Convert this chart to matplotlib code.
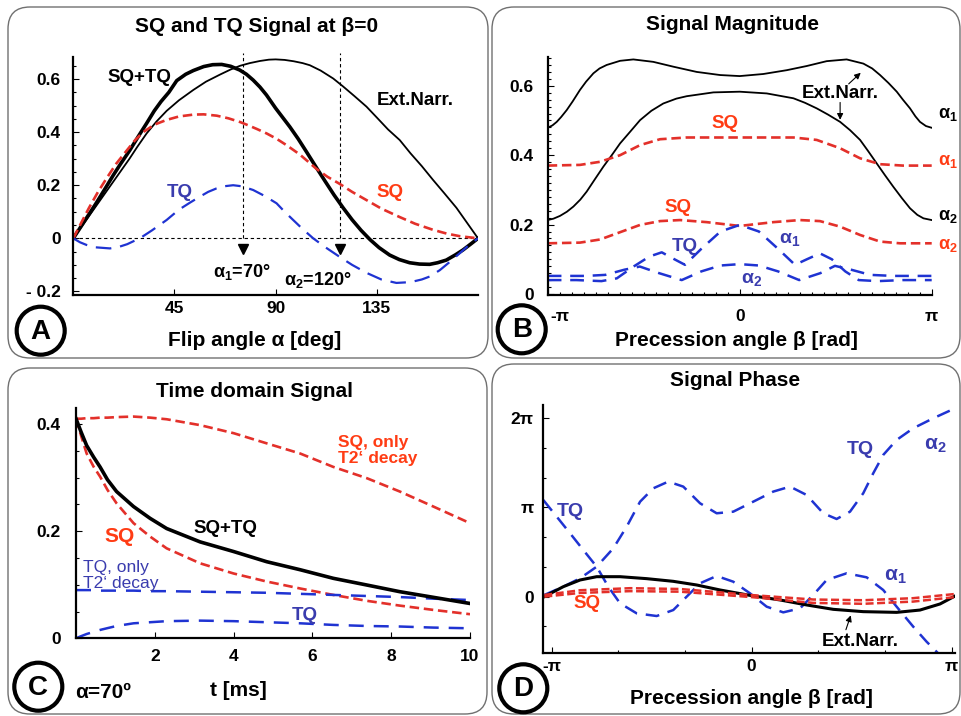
import matplotlib
matplotlib.use("Agg")
import matplotlib.pyplot as plt
import numpy as np
from matplotlib.patches import FancyBboxPatch, Circle
from matplotlib.transforms import IdentityTransform, ScaledTranslation
from matplotlib.ticker import MultipleLocator

# -----------------------------------------------------------------------------
# Datos
# -----------------------------------------------------------------------------

# A: señal frente al flip angle (grados)
a_deg_sqtq = [0, 5, 10, 14, 17.8, 21, 25, 29, 32.6, 36, 39, 42.5, 46, 50, 53.4, 58, 62, 66, 70, 74, 77,
              80, 83, 85.9, 90, 96.3, 100, 104, 108, 112, 116, 120, 124, 128, 132, 136, 140.7, 145,
              149.6, 154, 158.5, 162, 165.9, 170, 173.3, 177, 180]
a_sqtq = [0, 0.065, 0.13, 0.185, 0.238, 0.28, 0.33, 0.385, 0.433, 0.48, 0.515, 0.55, 0.594, 0.618,
          0.632, 0.647, 0.654, 0.655, 0.648, 0.634, 0.618, 0.596, 0.57, 0.54, 0.49, 0.42, 0.375, 0.322,
          0.268, 0.215, 0.163, 0.115, 0.07, 0.03, -0.005, -0.035, -0.063, -0.08, -0.092, -0.097, -0.098,
          -0.092, -0.082, -0.062, -0.044, -0.02, 0]

a_deg_en = [0, 5, 10, 15, 20, 25, 28.5, 32.6, 37, 41.5, 47, 53.4, 59, 65.3, 70, 74.2, 78.5, 83, 87, 90,
            94, 98, 102, 105.2, 110, 115.6, 120, 125, 130.4, 135, 140, 145.2, 150, 155, 160, 165, 170.4,
            175, 180]
a_en = [0, 0.06, 0.12, 0.18, 0.24, 0.30, 0.345, 0.395, 0.44, 0.48, 0.52, 0.559, 0.59, 0.617, 0.636,
        0.65, 0.66, 0.668, 0.673, 0.674, 0.672, 0.667, 0.66, 0.652, 0.632, 0.602, 0.572, 0.536, 0.496,
        0.455, 0.41, 0.37, 0.32, 0.272, 0.22, 0.17, 0.115, 0.06, 0]

a_deg_sq = [0, 3.5, 7, 11, 14.8, 19, 23.7, 27.5, 31.1, 36, 41.5, 47, 53.4, 58, 63.8, 69, 74.2, 78, 81.6,
            86, 90.4, 95, 100.7, 104, 108.1, 113, 118.5, 124, 130.4, 137, 145.2, 152, 160, 166, 171.9, 180]
a_sq = [0, 0.058, 0.115, 0.175, 0.226, 0.28, 0.33, 0.37, 0.40, 0.428, 0.446, 0.459, 0.466, 0.467, 0.462,
        0.452, 0.438, 0.425, 0.412, 0.395, 0.375, 0.35, 0.316, 0.292, 0.262, 0.232, 0.205, 0.175, 0.144,
        0.112, 0.08, 0.055, 0.032, 0.018, 0.008, 0]

a_deg_tq = [0, 3, 5.9, 10, 16.3, 20, 24, 27, 29.6, 35, 41.5, 47, 52, 56.3, 60, 63.7, 67, 71.1, 75, 80,
            85, 90.4, 94, 97.8, 102, 106.7, 112, 118.5, 124, 130.4, 137, 143.7, 150, 155, 158.5, 163,
            167, 171.9, 176, 180]
a_tq = [0, -0.015, -0.025, -0.034, -0.038, -0.033, -0.022, -0.01, 0, 0.03, 0.069, 0.108, 0.135, 0.157,
        0.175, 0.188, 0.196, 0.2, 0.196, 0.182, 0.16, 0.132, 0.1, 0.069, 0.035, 0, -0.033, -0.07, -0.1,
        -0.13, -0.155, -0.168, -0.165, -0.155, -0.144, -0.12, -0.092, -0.056, -0.025, 0]

a_alpha_marks = [75.6, 118.8]

# B: magnitud frente a beta (en unidades de pi)
b_beta_en1 = [-1, -0.975, -0.953, -0.93, -0.901, -0.87, -0.832, -0.8, -0.762, -0.73, -0.693, -0.623,
              -0.554, -0.45, -0.345, -0.224, -0.102, 0, 0.123, 0.245, 0.349, 0.453, 0.557, 0.644, 0.69,
              0.731, 0.775, 0.818, 0.85, 0.887, 0.915, 0.939, 0.97, 1]
b_en1 = [0.479, 0.486, 0.496, 0.51, 0.530, 0.555, 0.588, 0.612, 0.636, 0.650, 0.660, 0.672, 0.676,
         0.669, 0.655, 0.640, 0.631, 0.628, 0.634, 0.645, 0.657, 0.671, 0.676, 0.664, 0.65, 0.631,
         0.608, 0.583, 0.56, 0.535, 0.512, 0.496, 0.484, 0.479]

b_beta_en2 = [-1, -0.97, -0.936, -0.9, -0.866, -0.83, -0.797, -0.755, -0.71, -0.665, -0.623, -0.57,
              -0.519, -0.46, -0.398, -0.33, -0.276, -0.137, 0, 0.141, 0.28, 0.34, 0.401, 0.46, 0.523,
              0.575, 0.627, 0.67, 0.714, 0.757, 0.80, 0.845, 0.887, 0.925, 0.957, 1]
b_en2 = [0.213, 0.217, 0.225, 0.237, 0.252, 0.272, 0.295, 0.33, 0.367, 0.401, 0.434, 0.468, 0.501,
         0.528, 0.549, 0.563, 0.570, 0.581, 0.583, 0.578, 0.564, 0.551, 0.535, 0.517, 0.496, 0.472,
         0.444, 0.411, 0.376, 0.342, 0.309, 0.276, 0.247, 0.228, 0.218, 0.213]

b_beta_sq1 = [-1, -0.832, -0.727, -0.623, -0.519, -0.415, -0.276, 0, 0.28, 0.401, 0.523, 0.627, 0.731, 0.85, 1]
b_sq1 = [0.370, 0.372, 0.381, 0.400, 0.429, 0.446, 0.451, 0.451, 0.451, 0.444, 0.420, 0.391, 0.374, 0.370, 0.370]

b_beta_sq2 = [-1, -0.832, -0.727, -0.623, -0.519, -0.415, -0.311, -0.172, 0, 0.175, 0.314, 0.418, 0.523,
              0.627, 0.731, 0.835, 1]
b_sq2 = [0.146, 0.148, 0.157, 0.178, 0.199, 0.210, 0.213, 0.207, 0.196, 0.207, 0.213, 0.210, 0.194,
         0.170, 0.151, 0.146, 0.146]

b_beta_tq1 = [-1, -0.85, -0.72, -0.64, -0.55, -0.47, -0.406, -0.34, -0.285, -0.2, -0.1, 0, 0.1, 0.2,
              0.288, 0.35, 0.418, 0.48, 0.55, 0.62, 0.72, 0.85, 1]
b_tq1 = [0.040, 0.040, 0.037, 0.045, 0.08, 0.108, 0.12, 0.10, 0.084, 0.13, 0.18, 0.199, 0.18, 0.13,
         0.084, 0.10, 0.117, 0.10, 0.065, 0.04, 0.037, 0.040, 0.040]

b_beta_tq2 = [-1, -0.8, -0.7, -0.6, -0.52, -0.42, -0.302, -0.2, -0.1, 0, 0.1, 0.2, 0.31, 0.42, 0.496,
              0.58, 0.68, 0.8, 1]
b_tq2 = [0.052, 0.052, 0.055, 0.07, 0.079, 0.06, 0.040, 0.065, 0.082, 0.086, 0.082, 0.065, 0.040, 0.06,
         0.081, 0.07, 0.055, 0.052, 0.052]

# C: señal en el dominio del tiempo (ms)
c_t = [0, 0.13, 0.27, 0.45, 0.61, 0.8, 1.03, 1.46, 1.88, 2.3, 3.15, 4.0, 4.84, 5.69, 6.53, 7.38, 8.22,
       9.07, 10]
c_sqtq = [0.41, 0.385, 0.36, 0.338, 0.32, 0.296, 0.274, 0.246, 0.224, 0.205, 0.180, 0.162, 0.143, 0.128,
          0.112, 0.0995, 0.087, 0.0765, 0.065]
c_sq = [0.41, 0.378, 0.345, 0.32, 0.302, 0.277, 0.252, 0.215, 0.19, 0.168, 0.14, 0.121, 0.106, 0.093,
        0.081, 0.070, 0.061, 0.053, 0.045]
c_sq_t2 = [0.41, 0.41, 0.411, 0.411, 0.412, 0.412, 0.413, 0.414, 0.412, 0.409, 0.398, 0.383, 0.364,
           0.345, 0.32, 0.299, 0.274, 0.246, 0.215]
c_tq_t2 = [0.090, 0.090, 0.090, 0.090, 0.089, 0.089, 0.089, 0.089, 0.088, 0.088, 0.087, 0.086, 0.085,
           0.083, 0.081, 0.079, 0.077, 0.074, 0.0715]
c_tq = [0, 0.004, 0.008, 0.012, 0.0156, 0.019, 0.023, 0.028, 0.030, 0.032, 0.033, 0.032, 0.030, 0.028,
        0.025, 0.023, 0.022, 0.020, 0.0187]

# D: fase frente a beta (ambos ejes en unidades de pi)
d_beta_en = [-1.037, -0.942, -0.858, -0.775, -0.658, -0.525, -0.392, -0.275, -0.158, 0, 0.142, 0.275,
             0.408, 0.558, 0.725, 0.842, 0.942, 1.017]
d_en = [0.0, 0.112, 0.187, 0.224, 0.224, 0.202, 0.172, 0.131, 0.075, 0.011, -0.037, -0.093, -0.142,
        -0.168, -0.176, -0.150, -0.082, 0.007]

d_beta_sq = [-1.037, -0.858, -0.608, -0.358, 0, 0.308, 0.558, 0.808, 1.017]
d_sq1 = [0.019, 0.072, 0.095, 0.086, 0.018, -0.032, -0.04, -0.017, 0.03]
d_sq2 = [0.0, 0.042, 0.062, 0.056, -0.005, -0.07, -0.08, -0.055, -0.005]

d_beta_tq1 = [-1.042, -0.975, -0.908, -0.842, -0.775, -0.717, -0.658, -0.575, -0.475, -0.392, -0.325,
              -0.258, -0.175, -0.092, -0.008, 0.075, 0.158, 0.242, 0.308, 0.375, 0.475, 0.575, 0.658,
              0.725, 0.808, 0.875, 0.933]
d_tq1 = [1.084, 0.897, 0.71, 0.523, 0.336, 0.112, -0.075, -0.187, -0.217, -0.15, 0, 0.15, 0.232, 0.168,
         0.037, -0.112, -0.176, -0.131, 0.019, 0.187, 0.262, 0.217, 0.075, -0.112, -0.336, -0.505, -0.636]

d_beta_tq2 = [-1.037, -0.942, -0.858, -0.775, -0.692, -0.625, -0.558, -0.492, -0.417, -0.342, -0.258,
              -0.175, -0.092, 0.008, 0.108, 0.192, 0.275, 0.358, 0.425, 0.492, 0.558, 0.608, 0.658,
              0.725, 0.808, 0.908, 1.017]
d_tq2 = [0.019, 0.112, 0.206, 0.336, 0.542, 0.785, 1.065, 1.215, 1.29, 1.234, 1.047, 0.935, 0.953,
         1.065, 1.178, 1.234, 1.14, 0.935, 0.871, 0.953, 1.159, 1.383, 1.589, 1.757, 1.888, 2.0, 2.112]

# -----------------------------------------------------------------------------
# Estilo
# -----------------------------------------------------------------------------

plt.rcParams["font.family"] = ["Liberation Sans", "DejaVu Sans"]
plt.rcParams["font.weight"] = "bold"
plt.rcParams["mathtext.fontset"] = "custom"
plt.rcParams["mathtext.rm"] = "Liberation Sans"
plt.rcParams["mathtext.bf"] = "Liberation Sans:bold"
plt.rcParams["mathtext.default"] = "bf"
plt.rcParams["lines.solid_joinstyle"] = "round"

RED = "#e3302a"
RED_TXT = "#ff3c14"
BLUE = "#1f33d2"
BLUE_TXT = "#3a3cae"
LBL = 13.5  # etiquetas dentro de los ejes

W, H = 961, 716
fig = plt.figure(figsize=(W / 100, H / 100), dpi=100)


def add_ax(l, t, r, b):
    ax = fig.add_axes([l / W, 1 - b / H, (r - l) / W, (b - t) / H])
    ax.set_facecolor("none")
    for s in ("top", "right"):
        ax.spines[s].set_visible(False)
    for s in ("left", "bottom"):
        ax.spines[s].set_linewidth(1.6)
    ax.tick_params(which="both", direction="in", labelsize=12.5, width=0.8)
    ax.tick_params(which="major", length=4)
    ax.tick_params(which="minor", length=2.5)
    return ax


def ftext(x, y, s, **kw):
    kw.setdefault("ha", "center")
    kw.setdefault("va", "center")
    fig.text(x / W, 1 - y / H, s, **kw)


def panel_box(x0, y0, x1, y1):
    fig.add_artist(FancyBboxPatch((x0, H - y1), x1 - x0, y1 - y0,
                                  boxstyle="round,pad=0,rounding_size=22",
                                  transform=IdentityTransform(), fill=False,
                                  ec="#707070", lw=1.0))


def panel_letter(x, y, s):
    fig.add_artist(Circle((x, H - y), 24, transform=IdentityTransform(),
                          fc="white", ec="black", lw=3))
    ftext(x, y + 1, s, fontsize=20)


panel_box(8, 7, 488, 358)
panel_box(492, 7, 960, 358)
panel_box(8, 368, 487, 714)
panel_box(492, 364, 960, 714)

# -----------------------------------------------------------------------------
# Panel A
# -----------------------------------------------------------------------------
ax = add_ax(73.3, 57, 478, 295)
ax.set_xlim(0, 180)
ax.set_ylim(-0.2135, 0.683)
ax.axhline(0, color="black", lw=0.8, ls=(0, (3, 2.5)))
for xm in a_alpha_marks:
    ax.plot([xm, xm], [0, 0.697], color="black", lw=0.8, ls=(0, (3, 2.5)), clip_on=False)
    ax.plot([xm], [-0.04], marker="v", color="black", ms=7)
ax.plot(a_deg_en, a_en, color="black", lw=1.3)
ax.plot(a_deg_sqtq, a_sqtq, color="black", lw=2.6)
ax.plot(a_deg_sq, a_sq, color=RED, lw=1.9, dashes=(3.6, 1.8))
ax.plot(a_deg_tq, a_tq, color=BLUE, lw=1.6, dashes=(7, 4))
ax.set_xticks([45, 90, 135])
ax.set_yticks([-0.2, 0, 0.2, 0.4, 0.6])
ax.set_yticklabels(["- 0.2", "0", "0.2", "0.4", "0.6"])
ax.yaxis.set_minor_locator(MultipleLocator(0.05))
ax.tick_params(axis="y", pad=9)
ax.tick_params(axis="x", pad=4)
ax.text(29.6, 0.606, "SQ+TQ", fontsize=LBL, ha="center", va="center")
ax.text(151.9, 0.521, "Ext.Narr.", fontsize=LBL, ha="center", va="center")
ax.text(140.7, 0.173, "SQ", fontsize=LBL, color=RED_TXT, ha="center", va="center")
ax.text(47.4, 0.173, "TQ", fontsize=LBL, color=BLUE_TXT, ha="center", va="center")
ax.text(74.8, -0.126, "α$_1$=70°", fontsize=13, ha="center", va="center")
ax.text(108.9, -0.157, "α$_2$=120°", fontsize=13, ha="center", va="center")
ftext(256.7, 26, "SQ and TQ Signal at β=0", fontsize=15)
ftext(255, 340, "Flip angle α [deg]", fontsize=15)
panel_letter(40.7, 330.7, "A")

# -----------------------------------------------------------------------------
# Panel B
# -----------------------------------------------------------------------------
ax = add_ax(547.7, 57, 931.7, 295)
ax.set_xlim(-1, 1)
ax.set_ylim(-0.003, 0.683)
ax.plot(b_beta_en1, b_en1, color="black", lw=1.3)
ax.plot(b_beta_en2, b_en2, color="black", lw=1.3)
ax.plot(b_beta_sq1, b_sq1, color=RED, lw=1.9, dashes=(3.6, 1.8))
ax.plot(b_beta_sq2, b_sq2, color=RED, lw=1.9, dashes=(3.6, 1.8))
ax.plot(b_beta_tq1, b_tq1, color=BLUE, lw=1.8, dashes=(5.5, 3.5))
ax.plot(b_beta_tq2, b_tq2, color=BLUE, lw=1.8, dashes=(5.5, 3.5))
ax.set_xticks([-1, 0, 1])
ax.set_xticklabels(["-π", "0", "π"])
ax.set_yticks([0, 0.2, 0.4, 0.6])
ax.set_yticklabels(["0", "0.2", "0.4", "0.6"])
ax.xaxis.set_minor_locator(MultipleLocator(1 / 16))
ax.yaxis.set_minor_locator(MultipleLocator(0.02))
ax.tick_params(axis="y", pad=10)
ax.tick_params(axis="x", pad=10)
shift = ScaledTranslation(12 / 100, 0, fig.dpi_scale_trans)
ax.get_xticklabels()[0].set_transform(ax.get_xticklabels()[0].get_transform() + shift)
ax.text(0.523, 0.578, "Ext.Narr.", fontsize=LBL, ha="center", va="center")
ax.annotate("", xy=(0.641, 0.643), xytext=(0.557, 0.600),
            arrowprops=dict(arrowstyle="-|>", color="black", lw=0.8, mutation_scale=9))
ax.annotate("", xy=(0.523, 0.494), xytext=(0.523, 0.560),
            arrowprops=dict(arrowstyle="-|>", color="black", lw=0.8, mutation_scale=9))
ax.text(-0.076, 0.492, "SQ", fontsize=LBL, color=RED_TXT, ha="center", va="center")
ax.text(-0.323, 0.25, "SQ", fontsize=LBL, color=RED_TXT, ha="center", va="center")
ax.text(-0.285, 0.138, "TQ", fontsize=LBL, color=BLUE_TXT, ha="center", va="center")
ax.text(0.262, 0.157, "α$_1$", fontsize=14, color=BLUE_TXT, ha="center", va="center")
ax.text(0.0625, 0.042, "α$_2$", fontsize=14, color=BLUE_TXT, ha="center", va="center")
for y_lab, s, col in [(0.516, "α$_1$", "black"), (0.381, "α$_1$", RED_TXT),
                      (0.223, "α$_2$", "black"), (0.139, "α$_2$", RED_TXT)]:
    ax.text(1.032, y_lab, s, fontsize=13, color=col, ha="left", va="center", clip_on=False)
ftext(733, 25, "Signal Magnitude", fontsize=15)
ftext(736.7, 340, "Precession angle β [rad]", fontsize=15)
panel_letter(521.7, 329.3, "B")

# -----------------------------------------------------------------------------
# Panel C
# -----------------------------------------------------------------------------
ax = add_ax(76, 408, 470, 638.3)
ax.set_xlim(0, 10)
ax.set_ylim(0, 0.43)
ax.plot(c_t, c_sq_t2, color=RED, lw=1.9, dashes=(3.6, 1.8))
ax.plot(c_t, c_sq, color=RED, lw=1.9, dashes=(3.6, 1.8))
ax.plot(c_t, c_tq_t2, color=BLUE, lw=1.8, dashes=(6, 4))
ax.plot(c_t, c_tq, color=BLUE, lw=1.8, dashes=(6, 4))
ax.plot(c_t, c_sqtq, color="black", lw=2.6)
ax.set_xticks([2, 4, 6, 8, 10])
ax.set_yticks([0, 0.2, 0.4])
ax.set_yticklabels(["0", "0.2", "0.4"])
ax.yaxis.set_minor_locator(MultipleLocator(0.05))
ax.tick_params(axis="y", pad=11)
ax.tick_params(axis="x", pad=8)
ax.text(6.66, 0.35, "SQ, only\nT2‘ decay", fontsize=12.5, color=RED_TXT, ha="left", va="center",
        linespacing=1.1)
ax.text(3.78, 0.205, "SQ+TQ", fontsize=LBL, ha="center", va="center")
ax.text(1.10, 0.191, "SQ", fontsize=15, color=RED_TXT, ha="center", va="center")
ax.text(0.19, 0.117, "TQ, only\nT2‘ decay", fontsize=12.5, color=BLUE_TXT, fontweight="normal",
        ha="left", va="center", linespacing=1.1)
ax.text(5.81, 0.0417, "TQ", fontsize=LBL, color=BLUE_TXT, ha="center", va="center")
ftext(255, 391.7, "Time domain Signal", fontsize=15)
ftext(238.3, 690, "t [ms]", fontsize=15)
ftext(103.3, 692, "α=70º", fontsize=15)
panel_letter(38.3, 686.7, "C")

# -----------------------------------------------------------------------------
# Panel D
# -----------------------------------------------------------------------------
ax = add_ax(543.3, 405, 955, 653.3)
ax.set_xlim(-1.042, 1.017)
ax.set_ylim(-0.635, 2.149)
ax.plot(d_beta_tq1, d_tq1, color=BLUE, lw=1.8, dashes=(5.5, 3.5))
ax.plot(d_beta_tq2, d_tq2, color=BLUE, lw=1.8, dashes=(5.5, 3.5))
ax.plot(d_beta_en, d_en, color="black", lw=2.2)
ax.plot(d_beta_sq, d_sq1, color=RED, lw=1.8, dashes=(3.2, 1.4))
ax.plot(d_beta_sq, d_sq2, color=RED, lw=1.8, dashes=(3.2, 1.4))
ax.set_xticks([-1, 0, 1])
ax.set_xticklabels(["-π", "0", "π"])
ax.set_yticks([0, 1, 2])
ax.set_yticklabels(["0", "π", "2π"])
ax.xaxis.set_minor_locator(MultipleLocator(1 / 3))
ax.yaxis.set_minor_locator(MultipleLocator(1 / 3))
ax.tick_params(axis="y", pad=7)
ax.tick_params(axis="x", pad=4)
ax.text(-0.908, 0.953, "TQ", fontsize=14, color=BLUE_TXT, ha="center", va="center")
ax.text(0.542, 1.645, "TQ", fontsize=14, color=BLUE_TXT, ha="center", va="center")
ax.text(0.917, 1.70, "α$_2$", fontsize=15, color=BLUE_TXT, ha="center", va="center")
ax.text(0.717, 0.224, "α$_1$", fontsize=15, color=BLUE_TXT, ha="center", va="center")
ax.text(-0.825, -0.082, "SQ", fontsize=LBL, color=RED_TXT, ha="center", va="center")
ax.text(0.542, -0.505, "Ext.Narr.", fontsize=LBL, ha="center", va="center")
ax.annotate("", xy=(0.50, -0.18), xytext=(0.467, -0.40),
            arrowprops=dict(arrowstyle="-|>", color="black", lw=0.8, mutation_scale=9))
ftext(735, 380, "Signal Phase", fontsize=15)
ftext(751.7, 698.3, "Precession angle β [rad]", fontsize=15)
panel_letter(523.3, 688.3, "D")

fig.savefig("out.png", dpi=100)
